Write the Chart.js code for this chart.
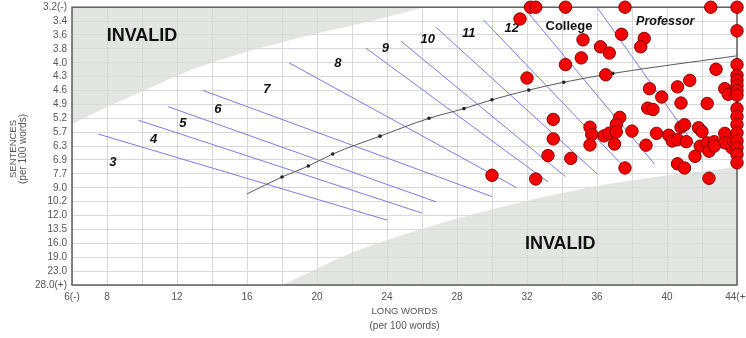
<!DOCTYPE html>
<html><head><meta charset="utf-8">
<script src="https://cdn.jsdelivr.net/npm/chart.js@4/dist/chart.umd.min.js"></script>
<style>html,body{margin:0;padding:0;background:#fff;}#wrap{width:746px;height:338px;}</style>
</head><body><div id="wrap"><canvas id="c" width="746" height="338"></canvas></div>
<script>
// ---- axis definitions ----
const sentenceStops = [3.2,3.4,3.6,3.8,4.0,4.3,4.6,4.9,5.2,5.7,6.3,6.9,7.7,9.0,10.2,12.0,13.5,16.0,19.0,23.0,28.0];
const sentenceTickLabels = ['3.2(-)','3.4','3.6','3.8','4.0','4.3','4.6','4.9','5.2','5.7','6.3','6.9','7.7','9.0','10.2','12.0','13.5','16.0','19.0','23.0','28.0(+)'];
const longWordTickValues = [6,8,12,16,20,24,28,32,36,40,44];
const longWordTickLabels = ['6(-)','8','12','16','20','24','28','32','36','40','44(+)'];

// ---- samples (long words, sentences per 100 words) ----
const sampleLongWords = [32.2,32.5,34.2,37.6,42.5,44,31.6,44,37.4,35.2,38.7,38.5,36.2,36.7,35.1,34.2,44,42.8,36.5,32.0,
  41.3,40.6,39.0,43.3,43.5,39.7,40.8,42.3,38.9,39.2,37.3,33.5,37.1,35.6,40.8,41.0,41.8,42.0,38.0,39.4,
  40.1,35.7,36.4,36.7,37.1,43.3,33.5,40.3,40.6,41.1,35.6,37.0,38.8,41.9,42.3,42.7,42.4,43.7,43.3,43.8,
  33.2,34.5,41.6,40.6,41.0,37.6,30.0,32.5,42.4,42.7,
  44,44,44,44,44,44,44,44,44,44,44,44,44];
const sampleSentences = [3.2,3.2,3.2,3.2,3.2,3.2,3.37,3.54,3.59,3.67,3.65,3.77,3.77,3.86,3.93,4.04,4.04,4.14,4.26,4.33,
  4.38,4.52,4.56,4.56,4.68,4.74,4.87,4.88,4.98,5.01,5.18,5.24,5.42,5.52,5.52,5.43,5.54,5.68,5.66,5.75,
  5.83,5.80,5.86,5.74,5.69,5.75,5.99,6.08,6.02,6.11,6.25,6.21,6.26,6.30,6.16,6.11,6.52,6.37,6.16,6.08,
  6.71,6.83,6.74,7.12,7.36,7.36,7.83,8.18,8.11,6.30,
  4.27,4.38,4.49,4.60,4.70,4.99,5.16,5.42,5.73,6.08,6.37,6.66,7.06];

// ---- grade boundary lines ----
const gradeStartLongWords = [7.5,9.8,11.5,13.5,18.4,22.8,24.8,26.8,29.5,32.0,36.0];
const gradeStartSentences = [5.78,5.27,4.95,4.60,4.00,3.79,3.69,3.49,3.38,3.26,3.2];
const gradeEndLongWords   = [24.0,26.0,26.8,30.0,31.4,33.2,34.2,36.0,37.5,39.3,41.7];
const gradeEndSentences   = [12.49,11.68,10.22,9.76,8.99,8.45,7.96,7.69,7.25,7.15,6.38];

// ---- grade labels ----
const gradeNames = ['3','4','5','6','7','8','9','10','11','12','College','Professor'];
const gradeLabelLongWords = [8.33,10.66,12.33,14.33,17.13,21.19,23.91,26.33,28.67,31.13,34.4,39.9];
const gradeLabelSentences = [7.02,6.01,5.40,5.01,4.58,4.01,3.80,3.67,3.58,3.51,3.47,3.41];

// ---- average curve ----
const curveLongWords = [16.0,18.0,19.5,20.9,23.6,26.4,28.4,30.0,32.1,34.1,36.9,44.0];
const curveSentences = [9.53,7.99,7.25,6.64,5.87,5.20,4.99,4.80,4.59,4.42,4.23,3.90];
const curveMarked    = [0,1,1,1,1,1,1,1,1,1,1,0];

// ---- invalid regions ----
const invalidTopLongWords = [6.0,8.1,10.0,12.9,16.0,20.0,23.4,26.1];
const invalidTopSentences = [5.41,4.94,4.62,4.14,3.84,3.58,3.38,3.2];
const invalidBottomLongWords = [18.0,20.0,21.9,25.7,32.0,37.1,44.0];
const invalidBottomSentences = [28.0,22.3,18.2,13.7,10.13,8.54,7.31];
const invalidLabelLongWords = [10.0,33.9];
const invalidLabelSentences = [3.61,16.1];

// ---- helpers ----
function sIdx(s){
  const L = sentenceStops;
  if (s <= L[0]) return 0;
  for (let i=0;i<L.length-1;i++){
    if (s <= L[i+1]) return i + (s-L[i])/(L[i+1]-L[i]);
  }
  return L.length-1;
}
const pts = (xs, ss) => xs.map((x,i)=>({x:x, y:sIdx(ss[i])}));

const FONT = "'Liberation Sans', Arial, sans-serif";
Chart.defaults.font.family = FONT;

const datasets = [];
datasets.push({
  data: pts(sampleLongWords, sampleSentences), showLine:false,
  pointRadius:6.2, pointHoverRadius:6.2, pointBackgroundColor:'#f50000', pointBorderColor:'#8a0000', pointBorderWidth:1,
  clip:false, order:0
});
datasets.push({
  data: pts(curveLongWords, curveSentences), borderColor:'#5a5a5a', borderWidth:1,
  pointRadius: curveMarked.map(m=>m?1.8:0), pointBackgroundColor:'#222', pointBorderWidth:0,
  cubicInterpolationMode:'monotone', fill:false, order:1
});
for (let i=0;i<gradeStartLongWords.length;i++){
  datasets.push({
    data:[{x:gradeStartLongWords[i], y:sIdx(gradeStartSentences[i])},{x:gradeEndLongWords[i], y:sIdx(gradeEndSentences[i])}],
    borderColor:'rgba(110,110,225,0.9)', borderWidth:1, pointRadius:0, fill:false, order:2
  });
}
datasets.push({
  data: pts(invalidTopLongWords, invalidTopSentences), borderWidth:0, borderColor:'rgba(0,0,0,0)',
  backgroundColor:'#e2e5e2', pointRadius:0, fill:'end', cubicInterpolationMode:'monotone', order:3
});
datasets.push({
  data: pts(invalidBottomLongWords, invalidBottomSentences), borderWidth:0, borderColor:'rgba(0,0,0,0)',
  backgroundColor:'#e2e5e2', pointRadius:0, fill:'start', cubicInterpolationMode:'monotone', order:3
});

const deco = {
  id:'deco',
  beforeDatasetsDraw(chart){
    const {ctx, chartArea:a, scales:{x,y}} = chart;
    ctx.save();
    ctx.strokeStyle='#5e5e5e'; ctx.lineWidth=1.5;
    ctx.strokeRect(a.left, a.top, a.right-a.left, a.bottom-a.top);
    ctx.fillStyle='#111'; ctx.textAlign='center'; ctx.textBaseline='middle';
    ctx.font = "bold 18px " + FONT;
    for (let i=0;i<invalidLabelLongWords.length;i++){
      ctx.fillText('INVALID', x.getPixelForValue(invalidLabelLongWords[i]), y.getPixelForValue(sIdx(invalidLabelSentences[i])));
    }
    for (let i=0;i<gradeNames.length;i++){
      const n = gradeNames[i];
      ctx.font = (n==='College' ? "bold 13px " : (n==='Professor' ? "bold italic 12.5px " : "bold italic 13px ")) + FONT;
      ctx.fillText(n, x.getPixelForValue(gradeLabelLongWords[i]), y.getPixelForValue(sIdx(gradeLabelSentences[i])));
    }
    ctx.restore();
  },
  afterDraw(chart){
    const {ctx, chartArea:a} = chart;
    ctx.save();
    ctx.fillStyle='#555'; ctx.textAlign='center'; ctx.textBaseline='middle';
    const cx = (a.left+a.right)/2;
    ctx.font = "9.5px " + FONT;
    ctx.fillText('LONG WORDS', cx, 311);
    ctx.font = "10px " + FONT;
    ctx.fillText('(per 100 words)', cx, 326);
    ctx.translate(13, 149);
    ctx.rotate(-Math.PI/2);
    ctx.font = "9.5px " + FONT;
    ctx.fillText('SENTENCES', 0, 0);
    ctx.font = "10px " + FONT;
    ctx.fillText('(per 100 words)', 0, 10);
    ctx.restore();
  }
};

new Chart(document.getElementById('c'), {
  type:'line',
  data:{datasets},
  plugins:[deco],
  options:{
    responsive:false, animation:false, events:[],
    layout:{padding:{top:5,right:9,left:0,bottom:0}},
    plugins:{legend:{display:false}, tooltip:{enabled:false}, filler:{drawTime:'beforeDraw'}},
    scales:{
      x:{type:'linear', min:6, max:44,
        ticks:{stepSize:2, autoSkip:false, maxRotation:0, padding:6, color:'#555', font:{size:10},
          callback:(v)=>{const i=longWordTickValues.indexOf(v); return i>=0?longWordTickLabels[i]:'';}},
        grid:{color:'#d9d9d9', drawTicks:false}, border:{display:false},
        afterFit:(s)=>{s.height=53; s.paddingLeft=0; s.paddingRight=0;}
      },
      y:{type:'linear', reverse:true, min:0, max:20,
        ticks:{stepSize:1, autoSkip:false, padding:5, color:'#555', font:{size:10},
          callback:(v)=>sentenceTickLabels[v]},
        grid:{color:'#d9d9d9', drawTicks:false}, border:{display:false},
        afterFit:(s)=>{s.width=72; s.paddingTop=0; s.paddingBottom=0;}
      }
    }
  }
});
</script></body></html>
